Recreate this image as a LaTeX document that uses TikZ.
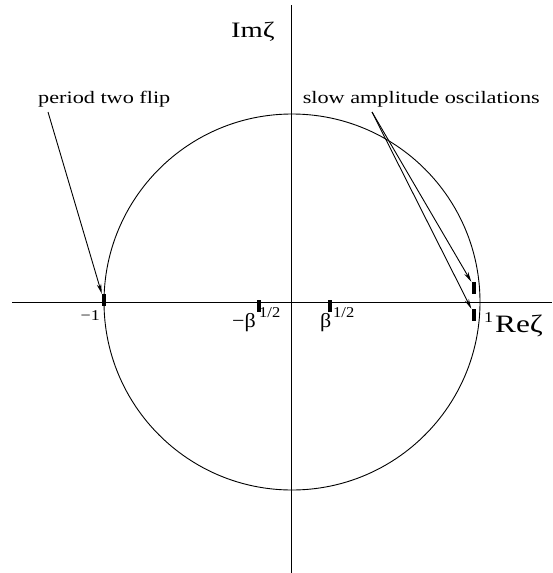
\documentclass[tikz,border=0pt]{standalone}
\usepackage{fontspec}
\setmainfont{Liberation Serif}
\usetikzlibrary{arrows.meta}
\tikzset{
  axisline/.style={line width=1pt},
  marker/.style={fill=black, inner sep=0pt, minimum width=4pt, minimum height=12pt},
  arr/.style={line width=0.9pt, -{Stealth[length=10pt,width=4.5pt]}},
  lbl/.style={inner sep=0pt, font=\fontsize{17.5}{20}\selectfont},
  big/.style={inner sep=0pt, font=\fontsize{22}{26}\selectfont},
  num/.style={inner sep=0pt, font=\fontsize{15}{18}\selectfont},
}
\newcommand{\hs}[2]{\scalebox{#1}[1]{#2}}
\begin{document}
\begin{tikzpicture}[x=1pt,y=-1pt]
\useasboundingbox (0,0) rectangle (552,573);
\coordinate (O) at (292,302);
\coordinate (xl) at (12,302);
\coordinate (xr) at (552,302);
\coordinate (yt) at (291.5,5);
\coordinate (yb) at (291.5,573);
\draw[axisline] (xl) -- (xr);
\draw[axisline] (yt) -- (yb);
\draw[line width=0.9pt] (O) circle[radius=188];
% markers
\node[marker] (mneg1) at (104,300) {};
\node[marker] (mnb) at (258.5,306) {};
\node[marker] (mpb) at (330,306) {};
\node[marker] (mup) at (473.5,288) {};
\node[marker] (mlo) at (473.5,315) {};
% labels
\node[big, anchor=base] (im) at (253,37) {\hs{1.3}{Imζ}};
\node[big, anchor=base west, font=\fontsize{25}{30}\selectfont] (re) at (495,332) {\hs{1.25}{Reζ}};
\node[num, anchor=base east] (lm1) at (100,320) {\hs{1.2}{−1}};
\node[num, anchor=base west] (l1) at (484,322) {\hs{1.2}{1}};
\node[big, anchor=base west, font=\fontsize{20}{24}\selectfont] (lnb) at (232,327) {\hs{1.1}{−β}};
\node[num, anchor=base west] (snb) at (259,317) {\hs{1.1}{1/2}};
\node[big, anchor=base west, font=\fontsize{20}{24}\selectfont] (lpb) at (320,327) {\hs{1.1}{β}};
\node[num, anchor=base west] (spb) at (333,317) {\hs{1.1}{1/2}};
\node[lbl, anchor=base west] (ptf) at (38,103) {\hs{1.27}{period two flip}};
\node[lbl, anchor=base east] (sao) at (540,103) {\hs{1.27}{slow amplitude oscilations}};
% arrows
\coordinate (s1) at (48,112);
\coordinate (s2) at (372,112);
\draw[arr] (s1) -- (mneg1.north west);
\draw[arr] (s2) -- (mup.north west);
\draw[arr] (s2) -- (mlo.north west);
\end{tikzpicture}
\end{document}
